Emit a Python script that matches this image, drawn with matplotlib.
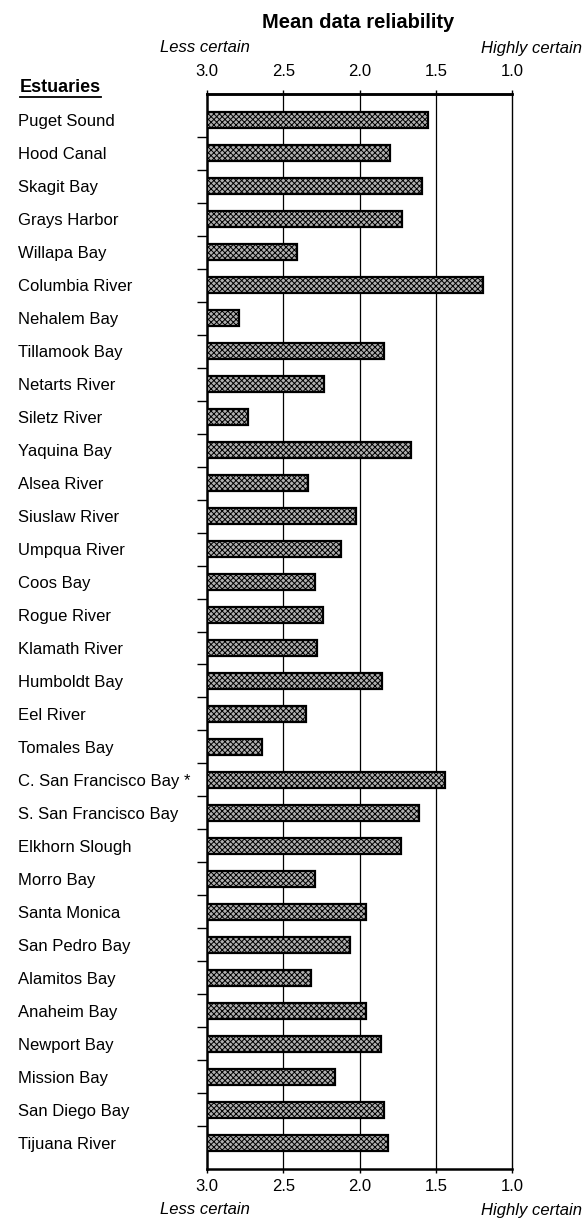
import numpy as np
import matplotlib.pyplot as plt
from matplotlib.lines import Line2D

plt.rcParams['font.family'] = ['Liberation Sans', 'DejaVu Sans']

# estuaries, north to south
estuaries = ['Puget Sound', 'Hood Canal', 'Skagit Bay', 'Grays Harbor', 'Willapa Bay',
             'Columbia River', 'Nehalem Bay', 'Tillamook Bay', 'Netarts River', 'Siletz River',
             'Yaquina Bay', 'Alsea River', 'Siuslaw River', 'Umpqua River', 'Coos Bay',
             'Rogue River', 'Klamath River', 'Humboldt Bay', 'Eel River', 'Tomales Bay',
             'C. San Francisco Bay *', 'S. San Francisco Bay', 'Elkhorn Slough', 'Morro Bay',
             'Santa Monica', 'San Pedro Bay', 'Alamitos Bay', 'Anaheim Bay', 'Newport Bay',
             'Mission Bay', 'San Diego Bay', 'Tijuana River']
reliability = [1.55, 1.80, 1.59, 1.72, 2.41,
               1.19, 2.79, 1.84, 2.23, 2.73,
               1.66, 2.34, 2.02, 2.12, 2.29,
               2.24, 2.28, 1.85, 2.35, 2.64,
               1.44, 1.61, 1.73, 2.29,
               1.96, 2.06, 2.32, 1.96, 1.86,
               2.16, 1.84, 1.81]
xticks = [3.0, 2.5, 2.0, 1.5, 1.0]
xticklabels = ['3.0', '2.5', '2.0', '1.5', '1.0']

W, H = 585, 1221
fig = plt.figure(figsize=(W / 100, H / 100), dpi=100)
ax = fig.add_axes([207 / W, 52 / H, 305 / W, 1075 / H])

y = np.arange(len(estuaries))
vals = np.array(reliability)
plt.rcParams['hatch.linewidth'] = 0.7
ax.barh(y, vals - 3.0, left=3.0, height=0.48, color='#b0b0b0', edgecolor='black',
        hatch='xxxxxx', linewidth=1.6, zorder=3)

ax.set_xlim(3.0, 1.0)
ax.set_ylim(len(estuaries) - 0.21, -0.79)

# vertical reference lines
for xv in [2.5, 2.0, 1.5]:
    ax.axvline(xv, color='black', lw=0.9, zorder=1)

for s in ['left', 'top', 'bottom']:
    ax.spines[s].set_linewidth(1.8)
ax.spines['right'].set_linewidth(1.0)

ax.set_xticks(xticks)
ax.set_xticklabels(xticklabels, fontsize=12)
ax.tick_params(axis='x', length=3, width=1, pad=4)

top = ax.secondary_xaxis('top')
top.set_xticks(xticks)
top.set_xticklabels(xticklabels, fontsize=12)
top.tick_params(axis='x', length=3, width=1, pad=8)
top.spines['top'].set_linewidth(1.8)

ax.set_yticks(y)
ax.set_yticklabels(estuaries, fontsize=12, ha='left')
ax.tick_params(axis='y', which='major', length=0, pad=136)
ax.set_yticks(y[:-1] + 0.5, minor=True)
ax.tick_params(axis='y', which='minor', length=7, width=1, direction='out')

fig.text(358 / W, 1 - 23 / H, 'Mean data reliability', fontsize=14.5, fontweight='bold',
         ha='center', va='center')
fig.text(205 / W, 1 - 48 / H, 'Less certain', fontsize=12, style='italic', ha='center', va='center')
fig.text(582 / W, 1 - 48 / H, 'Highly certain', fontsize=12, style='italic', ha='right', va='center')
fig.text(205 / W, 1 - 1210 / H, 'Less certain', fontsize=12, style='italic', ha='center', va='center')
fig.text(582 / W, 1 - 1210 / H, 'Highly certain', fontsize=12, style='italic', ha='right', va='center')

head = fig.text(20 / W, 1 - 87 / H, 'Estuaries', fontsize=13, fontweight='bold', ha='left', va='center')
fig.canvas.draw()
bb = head.get_window_extent().transformed(fig.transFigure.inverted())
fig.add_artist(Line2D([bb.x0, bb.x1], [bb.y0 - 0.001, bb.y0 - 0.001], color='black', lw=1.3,
                      transform=fig.transFigure))

fig.savefig('out.png', dpi=100)
